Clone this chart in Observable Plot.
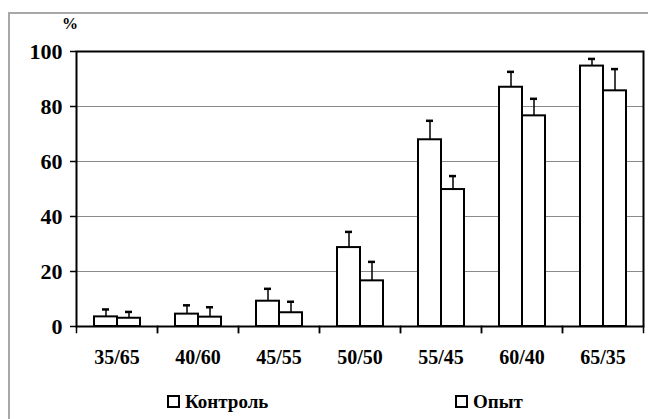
<!DOCTYPE html>
<html><head><meta charset="utf-8">
<script src="https://cdn.jsdelivr.net/npm/d3@7"></script>
<script src="https://cdn.jsdelivr.net/npm/@observablehq/plot@0.6"></script>
<style>
body{margin:0;background:#fff;}
#wrap{position:relative;width:648px;height:419px;overflow:hidden;background:#fff;font-family:"Liberation Serif","Times New Roman",Tinos,"DejaVu Serif",serif;font-weight:bold;color:#000;}
#border{position:absolute;left:8px;top:12px;width:700px;height:500px;border-left:2px solid #a8a8a8;border-top:2px solid #a8a8a8;}
#chart{position:absolute;left:0;top:0;}
#chart svg text{font-family:"Liberation Serif","Times New Roman",Tinos,"DejaVu Serif",serif !important;font-weight:bold;}
#pct{position:absolute;left:62px;top:15px;font-size:16px;}
.leg{position:absolute;top:392px;font-size:19px;display:flex;align-items:center;line-height:1;}
.sw{width:9px;height:9px;border:2px solid #000;background:#fff;margin-right:5px;}
</style></head>
<body><div id="wrap"><div id="border"></div><div id="chart"></div><div id="pct">%</div><div id="legend"></div></div>
<script>
const categories = ["35/65","40/60","45/55","50/50","55/45","60/40","65/35"];
const seriesNames = ["Контроль","Опыт"];
const control = [3.5, 4.5, 9.2, 28.7, 67.9, 87.0, 94.7];
const controlErr = [2.7, 3.2, 4.5, 5.7, 6.9, 5.6, 2.6];
const experiment = [3.0, 3.4, 5.0, 16.6, 49.8, 76.6, 85.7];
const experimentErr = [2.3, 3.6, 4.0, 6.9, 4.9, 6.2, 7.9];
const yTicks = [0, 20, 40, 60, 80, 100];

const data = categories.flatMap((c, i) => [
  {cat: c, series: seriesNames[0], value: control[i], err: controlErr[i]},
  {cat: c, series: seriesNames[1], value: experiment[i], err: experimentErr[i]}
]);

const W = 648, H = 375, mt = 51, mb = 49, ml = 74, mr = 3;
const plotH = H - mt - mb;

const chart = Plot.plot({
  width: W, height: H, marginTop: mt, marginBottom: mb, marginLeft: ml, marginRight: mr,
  style: {fontFamily: "'Liberation Serif', 'Times New Roman', serif", fontWeight: "bold", color: "#000", background: "transparent", overflow: "visible"},
  fx: {domain: categories, padding: 0, label: null},
  x: {domain: seriesNames, paddingInner: 0, paddingOuter: 0.73, axis: null},
  y: {domain: [0, 100]},
  marks: [
    Plot.ruleY(yTicks.filter(t => t > 0 && t < 100), {stroke: "#8a8a8a", strokeWidth: 1}),
    Plot.barY(data, {fx: "cat", x: "series", y: "value", fill: "#fff", stroke: "#000", strokeWidth: 2}),
    Plot.ruleX(data, {fx: "cat", x: "series", y1: "value", y2: d => d.value + d.err, stroke: "#000", strokeWidth: 1.5}),
    Plot.tickY(data, {fx: "cat", x: "series", y: d => d.value + d.err, stroke: "#000", strokeWidth: 2.5, insetLeft: 8, insetRight: 8}),
    Plot.frame({anchor: "left", insetTop: plotH, insetBottom: -6, stroke: "#000", strokeWidth: 1.5}),
    Plot.frame({anchor: "right", insetTop: plotH, insetBottom: -6, stroke: "#000", strokeWidth: 1.5}),
    Plot.frame({facet: "super", stroke: "#000", strokeWidth: 2}),
    Plot.axisFx({anchor: "bottom", tickSize: 0, tickPadding: 23, fontSize: 20, label: null}),
    Plot.axisY({ticks: yTicks, tickSize: 6, tickPadding: 8, fontSize: 22, label: null, strokeWidth: 1.5})
  ]
});
document.getElementById("chart").appendChild(chart);

const legend = document.getElementById("legend");
const legendLeft = [167, 455];
seriesNames.forEach((name, i) => {
  const d = document.createElement("div");
  d.className = "leg";
  d.style.left = legendLeft[i] + "px";
  d.innerHTML = '<span class="sw"></span><span>' + name + '</span>';
  legend.appendChild(d);
});
</script>
</body></html>
